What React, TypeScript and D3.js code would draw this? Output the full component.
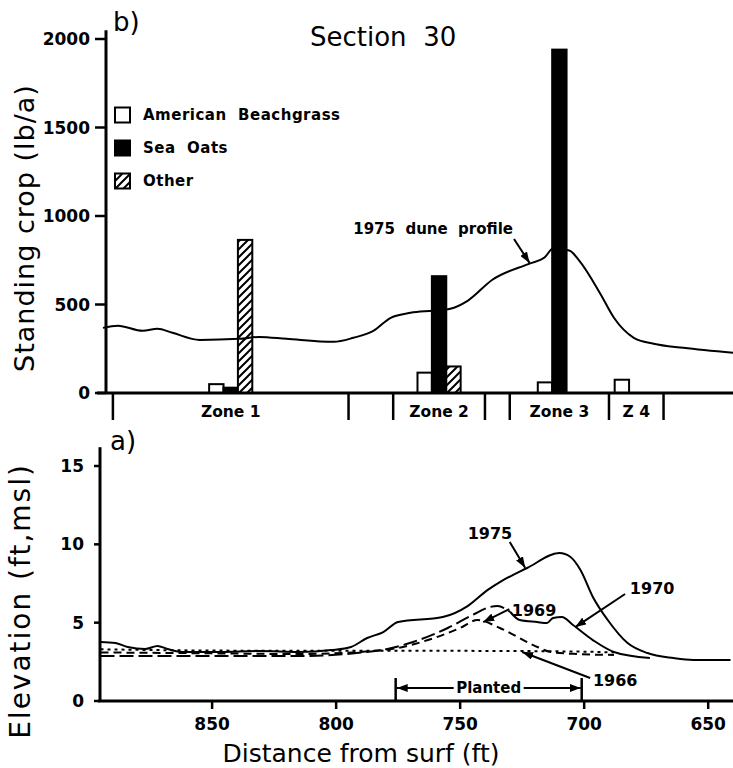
import * as d3 from 'd3';

// top panel (b): standing crop by zone
const zoneNames = ['Zone 1', 'Zone 2', 'Zone 3', 'Z 4'];
const zoneFrom = [890, 777, 730, 690];
const zoneTo = [795, 740, 690, 668];
const beachgrass = [50, 115, 60, 75];
const seaOats = [30, 660, 1940, 0];
const other = [865, 150, 0, 0];

const cropTicks = [0, 500, 1000, 1500, 2000];
const elevTicks = [0, 5, 10, 15];
const distTicks = [850, 800, 750, 700, 650];

// 1975 dune profile as drawn over the bars (lb/a units of panel b)
const profileTop: [number, number][] = [
	[894, 368], [888, 380], [878, 351], [872, 363], [866, 340], [855, 300],
	[839, 306], [831, 317], [820, 306], [801, 289], [793, 312], [785, 351],
	[778, 425], [770, 453], [761, 465], [754, 476], [747, 521], [737, 640],
	[722, 731], [716, 765], [712.5, 816], [706, 805], [702, 748], [693.5, 561],
	[688, 425], [680, 312], [672, 278], [660, 255], [640, 227],
];

// panel (a): elevation profiles (distance ft, elevation ft)
const elev1975: [number, number][] = [
	[895, 3.77], [889, 3.7], [884, 3.45], [877, 3.32], [872, 3.51], [868, 3.32],
	[862, 3.13], [847, 3.13], [831, 3.19], [815, 3.13], [802, 3.25], [794, 3.45],
	[787.5, 4.02], [781, 4.4], [775, 5.04], [757, 5.36], [747, 6.06], [739, 7.08],
	[734, 7.59], [723, 8.49], [710, 9.44], [705.5, 9.19], [701.5, 8.36], [696.5, 6.64],
	[690.5, 5.17], [682.5, 3.7], [674.5, 3.06], [664, 2.74], [656, 2.62], [641, 2.62],
];
const elev1970: [number, number][] = [
	[895, 2.87], [855, 2.87], [815, 2.87], [782, 3.25], [769, 3.77], [755, 4.66],
	[745, 5.49], [738, 6.0], [735, 6.06], [729.8, 5.68], [726, 5.17], [719, 5.04],
	[715, 4.98], [712.5, 5.3], [709, 5.36], [704.5, 4.85], [696.5, 3.89], [688, 3.13],
	[673.5, 2.74],
];
const elev1969: [number, number][] = [
	[895, 3.1], [855, 3.05], [815, 3.0], [781, 3.25], [763, 3.89], [750, 4.66],
	[743, 5.17], [734, 4.66], [720.5, 3.57], [713.5, 3.13], [703, 3.0], [688, 2.94],
];
const elev1966: [number, number][] = [
	[895, 3.3], [850, 3.22], [800, 3.2], [750, 3.2], [700, 3.15], [688, 3.1],
];
const planted = [776, 701];

const font = "'DejaVu Sans', sans-serif";

export default function App() {
	const x = d3.scaleLinear().domain([895.2, 640]).range([100, 733]);
	const yTop = d3.scaleLinear().domain([0, 2000]).range([393, 39]);
	const yBot = d3.scaleLinear().domain([0, 15]).range([701, 466]);
	const topAxisX = 106;

	const lineTop = d3.line<[number, number]>()
		.x(d => x(d[0])).y(d => yTop(d[1]))
		.curve(d3.curveMonotoneX);
	const lineBot = d3.line<[number, number]>()
		.x(d => x(d[0])).y(d => yBot(d[1]))
		.curve(d3.curveMonotoneX);

	const bw = Math.abs(x(0) - x(5.8));
	const edges = Array.from(new Set([...zoneFrom, ...zoneTo]));

	const bars = zoneNames.flatMap((z, i) => {
		const c = x((zoneFrom[i] + zoneTo[i]) / 2);
		return [
			{ key: z + 'bg', v: beachgrass[i], left: c - 1.5 * bw, fill: 'white' },
			{ key: z + 'so', v: seaOats[i], left: c - 0.5 * bw, fill: 'black' },
			{ key: z + 'ot', v: other[i], left: c + 0.5 * bw, fill: 'url(#hatch)' },
		].filter(b => b.v > 0);
	});

	const dashed1970 = elev1970.filter(d => d[0] >= 729.8);
	const solid1970 = elev1970.filter(d => d[0] <= 729.8);

	const arrow = (x1: number, y1: number, x2: number, y2: number) =>
		<line x1={x1} y1={y1} x2={x2} y2={y2} stroke="black" strokeWidth={2} markerEnd="url(#arrow)" />;

	const yearLabels = [
		{ t: '1975', d: 738, e: 10.7, from: [730, 10.15], to: [723.8, 8.5] },
		{ t: '1970', d: 672.6, e: 7.15, from: [683.5, 6.83], to: [703.6, 4.72] },
		{ t: '1969', d: 720.2, e: 5.8, from: [730.2, 5.87], to: [740.7, 5.04] },
		{ t: '1966', d: 687.5, e: 1.28, from: [697.6, 1.47], to: [725, 3.13] },
	];

	const legend = [
		{ t: 'American  Beachgrass', fill: 'white', y: 115 },
		{ t: 'Sea  Oats', fill: 'black', y: 148 },
		{ t: 'Other', fill: 'url(#hatch)', y: 181 },
	];

	const pl = x(planted[0]), pr = x(planted[1]), pm = (pl + pr) / 2;

	return (
		<svg width={733} height={768} style={{ position: 'absolute', left: 0, top: 0, background: 'white' }}
			fontFamily={font}>
			<defs>
				<pattern id="hatch" patternUnits="userSpaceOnUse" width={8} height={8}>
					<rect width={8} height={8} fill="white" />
					<path d="M0,8 L8,0 M-2,2 L2,-2 M6,10 L10,6" stroke="black" strokeWidth={2} />
				</pattern>
				<marker id="arrow" markerUnits="userSpaceOnUse" markerWidth={11} markerHeight={8}
					refX={11} refY={4} orient="auto">
					<path d="M0,0 L11,4 L0,8 z" fill="black" />
				</marker>
			</defs>

			{/* ---------- panel b ---------- */}
			<text x={113} y={31} fontSize={26}>b)</text>
			<text x={310} y={46} fontSize={26} style={{ whiteSpace: 'pre' }}>Section  30</text>

			<text transform={`translate(26,228) rotate(-90)`} textAnchor="middle" dominantBaseline="middle"
				fontSize={27} letterSpacing={1}>Standing crop (lb/a)</text>

			{bars.map(b => (
				<rect key={b.key} x={b.left} y={yTop(b.v)} width={bw} height={yTop(0) - yTop(b.v)}
					fill={b.fill} stroke="black" strokeWidth={2} />
			))}

			<path d={lineTop(profileTop) ?? ''} fill="none" stroke="black" strokeWidth={2} />

			<line x1={topAxisX} x2={topAxisX} y1={yTop(0)} y2={yTop(2050)} stroke="black" strokeWidth={3} />
			<line x1={97} x2={733} y1={yTop(0)} y2={yTop(0)} stroke="black" strokeWidth={3} />
			{cropTicks.map(t => (
				<g key={t}>
					<line x1={topAxisX - 11} x2={topAxisX} y1={yTop(t)} y2={yTop(t)} stroke="black" strokeWidth={2.5} />
					<text x={90} y={yTop(t)} textAnchor="end" dominantBaseline="central" fontSize={17}
						fontWeight="bold">{t}</text>
				</g>
			))}

			{edges.map(e => (
				<line key={e} x1={x(e)} x2={x(e)} y1={yTop(0)} y2={yTop(0) + 27} stroke="black" strokeWidth={2.5} />
			))}
			{zoneNames.map((z, i) => (
				<text key={z} x={x((zoneFrom[i] + zoneTo[i]) / 2)} y={417} textAnchor="middle" fontSize={15.5}
					fontWeight="bold" style={{ whiteSpace: 'pre' }}>{z}</text>
			))}

			{legend.map(l => (
				<g key={l.t}>
					<rect x={115} y={l.y - 7.5} width={15} height={15} fill={l.fill} stroke="black" strokeWidth={2} />
					<text x={143} y={l.y} dominantBaseline="central" fontSize={15} fontWeight="bold"
						letterSpacing={0.5} style={{ whiteSpace: 'pre' }}>{l.t}</text>
				</g>
			))}

			<text x={513} y={234} textAnchor="end" fontSize={15} fontWeight="bold"
				style={{ whiteSpace: 'pre' }}>1975  dune  profile</text>
			{arrow(514, 239, x(722), yTop(735))}

			{/* ---------- panel a ---------- */}
			<text x={110} y={450} fontSize={26}>a)</text>
			<text transform={`translate(22,601) rotate(-90)`} textAnchor="middle" dominantBaseline="middle"
				fontSize={28} letterSpacing={2}>Elevation (ft,msl)</text>

			<path d={lineBot(elev1966) ?? ''} fill="none" stroke="black" strokeWidth={2} strokeDasharray="3,4" />
			<path d={lineBot(elev1969) ?? ''} fill="none" stroke="black" strokeWidth={2} strokeDasharray="8,5" />
			<path d={lineBot(dashed1970) ?? ''} fill="none" stroke="black" strokeWidth={2} strokeDasharray="14,5" />
			<path d={lineBot(solid1970) ?? ''} fill="none" stroke="black" strokeWidth={2} />
			<path d={lineBot(elev1975) ?? ''} fill="none" stroke="black" strokeWidth={2} />

			{yearLabels.map(l => (
				<g key={l.t}>
					<text x={x(l.d)} y={yBot(l.e)} textAnchor="middle" dominantBaseline="central" fontSize={16}
						fontWeight="bold">{l.t}</text>
					{arrow(x(l.from[0]), yBot(l.from[1]), x(l.to[0]), yBot(l.to[1]))}
				</g>
			))}

			<line x1={pl} x2={pl} y1={678} y2={yBot(0)} stroke="black" strokeWidth={2.5} />
			<line x1={pr} x2={pr} y1={678} y2={yBot(0)} stroke="black" strokeWidth={2.5} />
			{arrow(pm - 35, 688, pl + 1, 688)}
			{arrow(pm + 35, 688, pr - 1, 688)}
			<text x={pm} y={688} textAnchor="middle" dominantBaseline="central" fontSize={15}
				fontWeight="bold">Planted</text>

			<line x1={100} x2={100} y1={yBot(0)} y2={yBot(16.2)} stroke="black" strokeWidth={3} />
			<line x1={98} x2={733} y1={yBot(0)} y2={yBot(0)} stroke="black" strokeWidth={3} />
			{elevTicks.map(t => (
				<g key={t}>
					<line x1={94} x2={100} y1={yBot(t)} y2={yBot(t)} stroke="black" strokeWidth={2.5} />
					<text x={84} y={yBot(t)} textAnchor="end" dominantBaseline="central" fontSize={17}
						fontWeight="bold">{t}</text>
				</g>
			))}
			{distTicks.map(t => (
				<g key={t}>
					<line x1={x(t)} x2={x(t)} y1={yBot(0)} y2={yBot(0) + 8} stroke="black" strokeWidth={2.5} />
					<text x={x(t)} y={724} textAnchor="middle" dominantBaseline="central" fontSize={17}
						fontWeight="bold">{t}</text>
				</g>
			))}
			<text x={361} y={762} textAnchor="middle" fontSize={25}>Distance from surf (ft)</text>
		</svg>
	);
}
